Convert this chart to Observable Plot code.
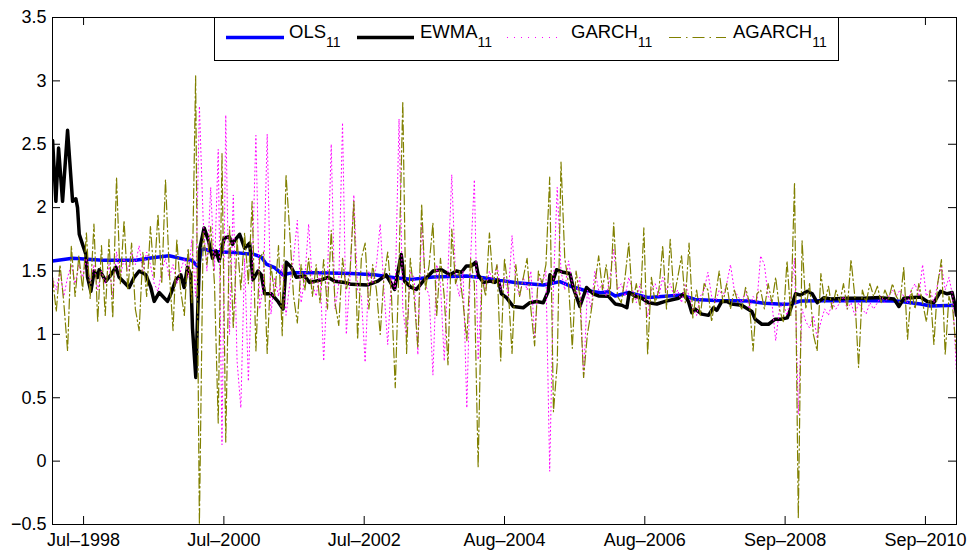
<!DOCTYPE html>
<html><head><meta charset="utf-8">
<script src="https://cdn.jsdelivr.net/npm/d3@7"></script>
<script src="https://cdn.jsdelivr.net/npm/@observablehq/plot@0.6"></script>
<style>body{margin:0;background:#fff} #chart{position:relative;width:969px;height:550px}</style>
</head><body><div id="chart"></div>
<script>
// ---- data ----
const seriesNames = ["OLS", "EWMA", "GARCH", "AGARCH"];
const seriesSub = "11";
const xDomain = ["1998-01-17", "2011-03-10"];
const xTickDates = ["1998-07-01", "2000-07-15", "2002-07-30", "2004-08-13", "2006-08-28", "2008-09-11", "2010-09-26"];
const yTicks = [-0.5, 0, 0.5, 1, 1.5, 2, 2.5, 3, 3.5];

// OLS (decimal years, values)
const olsYears = [1998.045,1998.336,1998.772,1999.256,1999.499,1999.741,1999.983,2000.07,2000.12,2000.17,2000.20,2000.25,2000.35,2000.50,2000.70,2000.982,2001.078,2001.151,2001.272,2001.393,2001.539,2001.900,2002.387,2002.726,2003.017,2003.259,2003.578,2004.063,2004.305,2004.547,2004.790,2005.177,2005.274,2005.420,2005.565,2005.759,2006.010,2006.127,2006.224,2006.418,2006.709,2007.193,2007.387,2007.678,2008.162,2008.404,2008.656,2008.773,2008.919,2009.597,2010.324,2010.663,2010.808,2011.186];
const olsValues = [1.579,1.600,1.585,1.585,1.605,1.620,1.590,1.585,1.555,1.530,1.660,1.675,1.655,1.650,1.645,1.630,1.610,1.555,1.526,1.470,1.487,1.487,1.480,1.470,1.447,1.434,1.453,1.460,1.447,1.426,1.408,1.390,1.400,1.416,1.382,1.350,1.329,1.337,1.303,1.330,1.290,1.310,1.276,1.268,1.263,1.245,1.237,1.240,1.263,1.268,1.263,1.240,1.224,1.230];

// EWMA (decimal years, values)
const ewmaYears = [1998.045,1998.093,1998.132,1998.190,1998.263,1998.336,1998.384,1998.408,1998.433,1998.481,1998.530,1998.554,1998.602,1998.651,1998.699,1998.723,1998.820,1998.893,1998.966,1999.014,1999.159,1999.232,1999.305,1999.402,1999.474,1999.523,1999.595,1999.717,1999.765,1999.838,1999.910,1999.959,2000.007,2000.056,2000.080,2000.128,2000.153,2000.187,2000.249,2000.312,2000.371,2000.419,2000.467,2000.540,2000.613,2000.661,
2000.691,2000.764,2000.836,2000.909,2000.957,2001.030,2001.079,2001.127,2001.224,2001.321,2001.394,2001.442,2001.515,2001.587,2001.708,2001.781,2001.951,2002.048,2002.144,2002.290,2002.387,2002.629,2002.774,2002.895,2003.017,2003.114,2003.162,2003.259,
2003.336,2003.433,2003.578,2003.699,2003.821,2003.917,2003.990,2004.063,2004.135,2004.198,2004.232,2004.305,2004.402,2004.475,2004.523,2004.571,2004.644,2004.741,2004.886,2004.983,2005.080,2005.177,2005.250,2005.274,2005.323,2005.371,2005.468,2005.565,2005.613,2005.710,2005.807,2005.904,
2005.982,2006.127,2006.224,2006.321,2006.394,2006.428,2006.515,2006.612,2006.709,2006.830,2006.951,2007.145,2007.217,2007.290,2007.339,2007.387,2007.484,2007.581,2007.654,2007.702,2007.775,2007.847,2007.920,2008.065,2008.211,2008.259,2008.356,2008.453,2008.550,
2008.628,2008.725,2008.773,2008.846,2008.919,2009.016,2009.088,2009.161,2009.258,2009.355,2009.597,2009.839,2010.081,2010.275,2010.348,2010.421,2010.663,2010.760,2010.857,2010.954,2011.051,2011.123,2011.172,2011.186];
const ewmaValues = [2.53,2.05,2.47,2.05,2.61,2.05,2.07,2.00,1.79,1.71,1.63,1.45,1.34,1.50,1.45,1.51,1.42,1.47,1.53,1.45,1.37,1.45,1.50,1.47,1.37,1.26,1.33,1.26,1.32,1.43,1.47,1.37,1.53,1.47,1.05,0.66,1.13,1.68,1.84,1.74,1.60,1.66,1.58,1.76,1.77,1.71,
1.74,1.79,1.68,1.72,1.43,1.50,1.47,1.32,1.32,1.26,1.20,1.57,1.53,1.45,1.46,1.41,1.43,1.45,1.42,1.41,1.395,1.39,1.42,1.47,1.355,1.63,1.42,1.37,
1.355,1.42,1.50,1.51,1.47,1.50,1.49,1.54,1.54,1.57,1.47,1.41,1.42,1.41,1.43,1.32,1.29,1.22,1.21,1.25,1.26,1.25,1.34,1.47,1.43,1.51,1.49,1.48,1.37,1.22,1.37,1.32,
1.303,1.30,1.24,1.23,1.21,1.33,1.30,1.285,1.25,1.24,1.26,1.285,1.32,1.26,1.17,1.20,1.16,1.15,1.21,1.19,1.26,1.26,1.24,1.23,1.18,1.12,1.08,1.08,1.12,
1.12,1.13,1.20,1.32,1.31,1.34,1.32,1.25,1.29,1.28,1.285,1.285,1.29,1.28,1.22,1.285,1.295,1.26,1.25,1.34,1.32,1.33,1.21,1.15];

// GARCH / AGARCH sampled every 20 days from 1998-01-17
const gridStart = "1998-01-17";
const gridStepDays = 20;
const garchValues = [
1.45,1.35,1.50,1.30,1.45,1.55,1.40,1.55,1.45,1.60,
1.40,1.55,1.35,1.50,1.40,1.55,1.30,1.65,1.45,1.60,
1.50,1.65,1.55,1.70,1.50,1.65,1.55,1.40,1.34,1.50,
1.60,1.45,1.55,1.40,1.50,1.60,1.45,1.75,1.30,2.80,
1.90,1.50,2.16,1.50,2.46,0.13,2.73,1.00,2.10,
0.79,0.42,1.60,0.63,1.50,2.57,1.20,1.40,2.58,1.16,
1.45,1.30,1.55,1.15,1.40,1.60,1.90,1.25,1.45,1.87,
1.40,1.30,1.50,0.79,1.45,2.50,1.20,1.40,2.67,1.00,
1.45,2.10,1.35,1.30,0.78,1.50,1.40,1.55,1.87,1.35,
0.92,1.45,1.35,2.70,1.20,0.97,1.50,1.45,
0.84,1.88,1.40,1.30,0.68,1.55,1.40,0.79,1.50,2.26,
1.45,1.30,1.50,0.42,1.60,2.22,0.80,1.45,1.35,1.50,
1.40,1.55,1.35,1.45,1.30,1.78,1.40,1.30,1.45,1.35,
1.50,0.97,1.45,1.40,1.50,-0.08,1.40,2.16,1.50,1.35,
1.58,1.40,1.30,1.45,0.66,1.35,1.20,1.50,1.35,
1.40,1.30,1.45,1.67,1.35,1.40,1.30,1.45,1.35,1.25,
1.40,1.30,1.14,1.35,1.40,1.30,1.45,1.35,1.40,1.30,
1.35,1.25,1.40,1.30,1.20,1.15,1.30,1.35,1.49,1.30,
1.25,1.35,1.30,1.40,1.55,1.35,1.30,1.25,1.35,1.20,
1.30,1.25,1.62,1.55,1.30,1.25,0.95,1.20,
1.25,1.15,1.30,1.60,0.37,1.20,1.10,1.05,1.15,0.97,
1.10,1.20,1.15,1.25,1.20,1.25,1.30,1.20,1.25,1.15,
1.25,1.20,1.16,1.25,1.20,1.25,1.30,1.25,1.30,1.35,
1.30,1.35,1.30,1.25,1.35,1.40,1.30,1.55,1.30,1.35,
1.25,1.40,1.55,1.35,1.45,1.30,0.69];
const agarchValues = [
1.45,1.18,1.55,1.25,0.87,1.70,1.30,1.62,1.35,1.80,
1.28,1.87,1.10,1.70,1.15,1.75,1.13,2.24,1.40,1.90,
1.35,1.72,1.20,1.03,1.65,1.30,1.85,1.45,1.95,1.40,
2.22,1.50,1.03,1.75,1.35,1.15,1.68,1.25,3.04,-0.50,
1.80,1.55,1.85,1.40,0.30,2.43,0.15,1.85,1.05,
1.75,1.35,1.80,1.40,2.05,0.87,1.60,1.65,0.85,1.55,
1.30,1.70,0.99,2.26,1.80,1.30,1.09,1.55,1.35,1.60,
1.30,1.55,1.25,1.59,1.20,1.82,1.25,1.07,1.60,1.35,
1.50,2.05,0.96,1.60,1.72,1.20,1.55,1.35,1.00,1.45,
1.65,1.30,0.58,1.55,2.84,0.85,1.60,1.30,
0.89,2.03,1.35,1.55,1.88,1.15,1.60,1.30,0.76,1.83,
1.40,1.50,1.25,0.95,1.60,1.40,-0.05,1.45,1.30,1.80,
1.40,1.55,0.79,1.60,1.35,0.85,1.55,1.30,1.45,1.60,
1.20,0.91,1.50,1.40,1.55,2.24,0.39,0.77,2.36,1.60,
1.40,0.89,1.50,1.30,0.66,1.00,1.18,1.40,1.62,
1.35,1.55,1.30,1.88,1.30,1.25,1.45,1.72,1.25,1.40,
1.20,1.84,0.84,1.45,1.25,1.35,1.70,1.20,1.75,1.30,
1.45,1.62,1.25,1.72,1.13,1.35,1.15,1.40,1.35,1.10,
1.30,1.50,1.25,1.40,1.20,1.35,1.25,1.20,1.37,1.25,
0.87,1.32,1.35,1.20,1.40,1.25,1.45,1.20,
1.10,1.58,1.15,2.20,-0.45,1.74,1.20,1.40,1.00,0.87,
1.48,1.25,1.38,1.20,1.35,1.25,1.40,1.20,1.59,1.30,
0.74,1.35,1.25,1.40,1.30,1.38,1.25,1.35,1.28,1.40,
1.30,1.25,1.53,0.96,1.35,1.20,1.40,1.25,1.10,1.35,
0.92,1.40,1.59,0.84,1.30,1.20,0.85];

const colors = {OLS: "#0000ff", EWMA: "#000000", GARCH: "#ff00ff", AGARCH: "#808000"};

// ---- build tables ----
function fromYear(y) {
  const Y = Math.floor(y);
  const a = Date.UTC(Y, 0, 1), b = Date.UTC(Y + 1, 0, 1);
  return new Date(a + (y - Y) * (b - a));
}
const ols = olsYears.map((y, i) => ({date: fromYear(y), value: olsValues[i]}));
const ewma = ewmaYears.map((y, i) => ({date: fromYear(y), value: ewmaValues[i]}));
const g0 = new Date(gridStart);
const garch = garchValues.map((v, i) => ({date: d3.utcDay.offset(g0, i * gridStepDays), value: v}));
const agarch = agarchValues.map((v, i) => ({date: d3.utcDay.offset(g0, i * gridStepDays), value: v}));
const xTicks = xTickDates.map(d => new Date(d));
const fmtX = d3.utcFormat("%b–%Y");
const fmtY = d => d < 0 ? "\u2212" + Math.abs(d) : String(d);

const FONT = "'Liberation Sans', Arial, Helvetica, sans-serif";
const dashDot = "10,3,1.5,3";
const dotted = "1,3";

const W = 969, H = 550, ML = 52, MR = 13, MT = 17, MB = 26, TICK = 8;
const innerW = W - ML - MR, innerH = H - MT - MB;

const chart = Plot.plot({
  width: W, height: H,
  marginLeft: ML, marginRight: MR, marginTop: MT, marginBottom: MB,
  style: {fontFamily: FONT, fontSize: "18px", background: "#fff", color: "#000"},
  x: {type: "utc", domain: xDomain.map(d => new Date(d))},
  y: {domain: [-0.5, 3.5]},
  marks: [
    Plot.line(ols, {x: "date", y: "value", stroke: colors.OLS, strokeWidth: 3.5, clip: true}),
    Plot.line(ewma, {x: "date", y: "value", stroke: colors.EWMA, strokeWidth: 3.5, clip: true}),
    Plot.line(garch, {x: "date", y: "value", stroke: colors.GARCH, strokeWidth: 1, strokeDasharray: dotted, clip: true}),
    Plot.line(agarch, {x: "date", y: "value", stroke: colors.AGARCH, strokeWidth: 1.2, strokeDasharray: dashDot, clip: true}),
    Plot.axisY(yTicks, {anchor: "left", tickSize: 0, tickPadding: 6, tickFormat: fmtY, label: null}),
    Plot.axisX(xTicks, {anchor: "bottom", tickSize: 0, tickPadding: 9, tickFormat: fmtX, label: null}),
    // inward ticks on all four sides
    Plot.tickY(yTicks, {y: d => d, stroke: "#000", strokeWidth: 1, insetRight: innerW - TICK}),
    Plot.tickY(yTicks, {y: d => d, stroke: "#000", strokeWidth: 1, insetLeft: innerW - TICK}),
    Plot.tickX(xTicks, {x: d => d, stroke: "#000", strokeWidth: 1, insetTop: innerH - TICK}),
    Plot.tickX(xTicks, {x: d => d, stroke: "#000", strokeWidth: 1, insetBottom: innerH - TICK}),
    Plot.frame({stroke: "#000", strokeWidth: 1})
  ]
});
document.getElementById("chart").appendChild(chart);

// ---- legend (inside the axes, top) ----
const svg = d3.select(chart);
const lg = svg.append("g").attr("font-family", FONT).attr("text-anchor", "start");
lg.append("rect").attr("x", 214.5).attr("y", 17.5).attr("width", 624).attr("height", 43)
  .attr("fill", "#fff").attr("stroke", "#000").attr("stroke-width", 1);
const entries = [
  {name: seriesNames[0], x1: 226, x2: 284, tx: 289, stroke: colors.OLS, w: 3.5, dash: null},
  {name: seriesNames[1], x1: 357, x2: 414, tx: 420, stroke: colors.EWMA, w: 3.5, dash: null},
  {name: seriesNames[2], x1: 507, x2: 561, tx: 571, stroke: colors.GARCH, w: 1, dash: "1,6"},
  {name: seriesNames[3], x1: 669, x2: 726, tx: 733, stroke: colors.AGARCH, w: 1.2, dash: "12,5,1.5,5"}
];
entries.forEach(e => {
  lg.append("line").attr("x1", e.x1).attr("x2", e.x2).attr("y1", 37.5).attr("y2", 37.5)
    .attr("stroke", e.stroke).attr("stroke-width", e.w).attr("stroke-dasharray", e.dash);
  const t = lg.append("text").attr("x", e.tx).attr("y", 38).attr("font-size", "18.5px").attr("fill", "#000").text(e.name);
  t.append("tspan").attr("dy", 9).attr("font-size", "14px").text(seriesSub);
});
</script>
</body></html>
